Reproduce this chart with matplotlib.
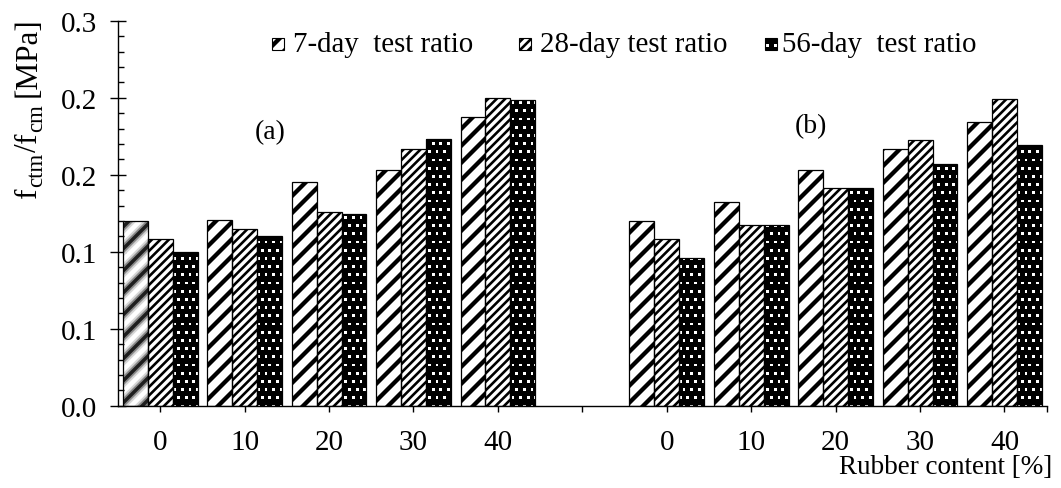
import numpy as np
import matplotlib
matplotlib.use("Agg")
import matplotlib.pyplot as plt
from matplotlib.ticker import MultipleLocator, FixedLocator
from matplotlib.collections import LineCollection, PathCollection
from matplotlib.markers import MarkerStyle
from matplotlib.patches import Rectangle
from matplotlib.transforms import IdentityTransform

plt.rcParams['font.family'] = ['Liberation Serif', 'DejaVu Serif']

# Rubber content categories, two panels (a) and (b)
rubber = ["0", "10", "20", "30", "40"]
series_labels = ["7-day  test ratio", "28-day test ratio", "56-day  test ratio"]

# f_ctm / f_cm ratios, panel (a)
a_7day = [0.144, 0.145, 0.174, 0.184, 0.225]
a_28day = [0.130, 0.138, 0.151, 0.200, 0.240]
a_56day = [0.120, 0.132, 0.149, 0.208, 0.238]
# f_ctm / f_cm ratios, panel (b)
b_7day = [0.144, 0.159, 0.184, 0.200, 0.221]
b_28day = [0.130, 0.141, 0.170, 0.207, 0.239]
b_56day = [0.115, 0.141, 0.170, 0.188, 0.203]

y_ticks = [0.0, 0.06, 0.12, 0.18, 0.24, 0.30]

W, H = 1061, 489
PX = 0.72  # points per pixel at 100 dpi
fig = plt.figure(figsize=(W / 100, H / 100), dpi=100)
ax = fig.add_axes([118 / W, 1 - 406.7 / H, 928.7 / W, 385 / H])
renderer = fig.canvas.get_renderer()

n = len(rubber)
x_a = np.arange(n)
x_b = np.arange(n) + n + 1
bw = 0.295

ax.set_xlim(-0.5, 2 * n + 0.5)
ax.set_ylim(0, 0.3)

_square = MarkerStyle('s')
_square_path = _square.get_path().transformed(_square.get_transform())


# ---- fill textures, drawn in pixel space and clipped to a patch ----
def stripes(parent, patch, period, width_px, color='black', phase=0.0, z=2):
    bb = patch.get_window_extent()
    x0, y0, x1, y1 = bb.x0, bb.y0, bb.x1, bb.y1
    cmin = np.floor((y0 - x1 - phase) / period) * period + phase
    cs = np.arange(cmin, y1 - x0 + period, period)
    segs = [[(x0 - 10, x0 - 10 + c), (x1 + 10, x1 + 10 + c)] for c in cs]
    lc = LineCollection(segs, colors=color, linewidths=width_px * PX,
                        transform=IdentityTransform(), zorder=z)
    parent.add_artist(lc)
    lc.set_clip_path(patch)


def dots(parent, patch, step_x, step_y, size_px, z=2):
    bb = patch.get_window_extent()
    x0, y0, x1, y1 = bb.x0, bb.y0, bb.x1, bb.y1
    pts = []
    r0 = int(np.floor(y0 / step_y)) - 1
    r1 = int(np.ceil(y1 / step_y)) + 1
    for r in range(r0, r1):
        off = (step_x / 2) if r % 2 else 0.0
        c0 = int(np.floor((x0 - off) / step_x)) - 1
        c1 = int(np.ceil((x1 - off) / step_x)) + 1
        for c in range(c0, c1):
            pts.append((c * step_x + off, r * step_y))
    pc = PathCollection([_square_path], sizes=[(size_px * PX) ** 2],
                        offsets=np.array(pts), offset_transform=IdentityTransform(),
                        transform=IdentityTransform(), facecolors='white',
                        linewidths=0, zorder=z)
    parent.add_artist(pc)
    pc.set_clip_path(patch)


def texture(parent, patch, kind):
    if kind == 0:
        stripes(parent, patch, period=17, width_px=4.3)
    elif kind == 1:
        stripes(parent, patch, period=8.5, width_px=2.6, phase=3)
    elif kind == 2:
        dots(parent, patch, step_x=7.6, step_y=8.2, size_px=2.8)
    elif kind == 3:
        # soft, blurred wide stripes
        stripes(parent, patch, period=22, width_px=11, color='#d6d6d6', phase=6)
        stripes(parent, patch, period=22, width_px=7, color='#8a8a8a', phase=6)
        stripes(parent, patch, period=22, width_px=3.5, color='#1e1e1e', phase=6)


faces = ['white', 'white', 'black']
for xs, data in ((x_a, (a_7day, a_28day, a_56day)), (x_b, (b_7day, b_28day, b_56day))):
    for k, vals in enumerate(data):
        pos = xs + (k - 1) * bw
        bars = ax.bar(pos, vals, bw, color=faces[k], linewidth=0, zorder=1)
        for i, b in enumerate(bars):
            kind = 3 if (xs is x_a and k == 0 and i == 0) else k
            texture(ax, b, kind)
        ax.bar(pos, vals, bw, fill=False, edgecolor='black', linewidth=0.9, zorder=3)

ax.set_xlim(-0.5, 2 * n + 0.5)
ax.set_ylim(0, 0.3)

ax.spines['top'].set_visible(False)
ax.spines['right'].set_visible(False)
for s in ('left', 'bottom'):
    ax.spines[s].set_linewidth(1.0)
    ax.spines[s].set_zorder(4)

ax.yaxis.set_major_locator(FixedLocator(y_ticks))
ax.set_yticklabels([f"{v:.1f}" for v in y_ticks])
ax.yaxis.set_minor_locator(MultipleLocator(0.012))
ax.tick_params(axis='y', which='major', direction='inout', length=12, width=1.0,
               labelsize=21, pad=9)
ax.tick_params(axis='y', which='minor', direction='in', length=4.5, width=1.0)

xt = list(x_a) + [n] + list(x_b) + [2 * n + 0.5]
xl = rubber + [""] + rubber + [""]
ax.set_xticks(xt)
ax.set_xticklabels(xl)
ax.tick_params(axis='x', which='major', direction='out', length=4, width=1.0,
               labelsize=21, pad=13)

ax.text(1.30, 0.2133, "(a)", fontsize=20, ha='center', va='center')
ax.text(7.71, 0.2182, "(b)", fontsize=20, ha='center', va='center')

# vertical axis title, set piece by piece so the subscripts keep a larger size
main_fs, sub_fs = 22.5, 16.5
pieces = [("f", main_fs, 0.0), ("ctm", sub_fs, 6.0), ("/", main_fs, 0.0),
          ("f", main_fs, 0.0), ("cm", sub_fs, 6.0), ("[MPa]", main_fs, 0.0)]
gaps = [0.5, 0.5, 0.5, 0.5, 7.5, 0.0]
lengths = []
for s, fs, _ in pieces:
    t = fig.text(0, 0, s, fontsize=fs)
    lengths.append(t.get_window_extent(renderer).width)
    t.remove()
total = sum(lengths) + sum(gaps)
base_x = 36.0
y_cur = H - 17.0 - total
for (s, fs, drop), ln, gp in zip(pieces, lengths, gaps):
    fig.text(base_x + drop, y_cur, s, fontsize=fs, rotation=90,
             rotation_mode='anchor', ha='left', va='baseline',
             transform=IdentityTransform())
    y_cur += ln + gp

fig.text(1052 / W, 1 - 468 / H, "Rubber content [%]", ha='right', va='center',
         fontsize=19.5)

# legend: small textured squares followed by labels
mk = 12
leg_mx = [272, 519, 765]
leg_tx = [293, 540, 782]
leg_y = 45
for k, (mx, tx, lab) in enumerate(zip(leg_mx, leg_tx, series_labels)):
    sq = Rectangle((mx, H - leg_y - mk / 2), mk, mk, transform=IdentityTransform(),
                   facecolor=faces[k], edgecolor='none', zorder=1)
    fig.add_artist(sq)
    texture(fig, sq, k)
    fig.add_artist(Rectangle((mx, H - leg_y - mk / 2), mk, mk,
                             transform=IdentityTransform(), fill=False,
                             edgecolor='black', linewidth=0.8, zorder=3))
    fig.text(tx / W, 1 - leg_y / H, lab, ha='left', va='center', fontsize=20.8)

fig.savefig("out.png", dpi=100)
